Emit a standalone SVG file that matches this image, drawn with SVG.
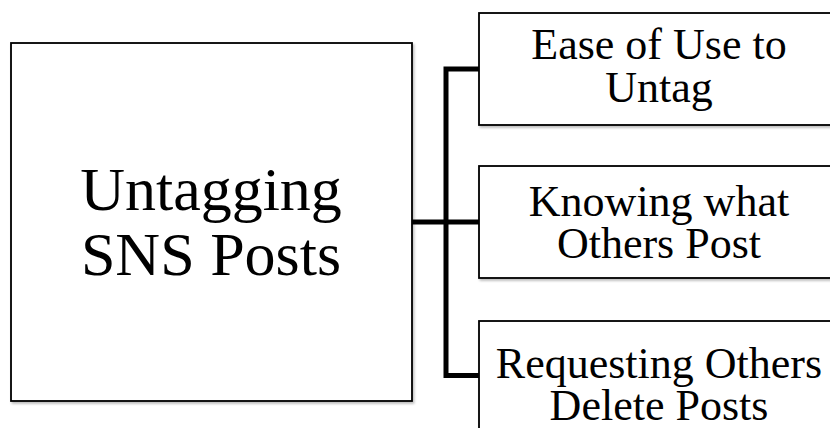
<svg xmlns="http://www.w3.org/2000/svg" width="830" height="428" viewBox="0 0 830 428">
  <defs>
    <filter id="shadow" x="-5%" y="-5%" width="115%" height="115%">
      <feDropShadow dx="1.5" dy="2" stdDeviation="1.2" flood-color="#000" flood-opacity="0.25"/>
    </filter>
  </defs>
  <style>
    .box { fill: #ffffff; stroke: #000000; stroke-width: 1.8; filter: url(#shadow); }
    .main { font-family: "Liberation Serif", "Times New Roman", serif; font-size: 62px; fill: #000000; text-anchor: middle; }
    .sub { font-family: "Liberation Serif", "Times New Roman", serif; font-size: 44px; fill: #000000; text-anchor: middle; }
    .link { fill: none; stroke: #000000; stroke-width: 5; stroke-linejoin: miter; stroke-linecap: butt; }
  </style>
  <rect width="830" height="428" fill="#ffffff"/>

  <!-- connectors -->
  <g id="connectors">
    <path class="link" d="M479 69 H446 V375.5 H479"/>
    <path class="link" d="M412 222 H479"/>
  </g>

  <!-- root node -->
  <g id="node-root">
    <rect class="box" x="11" y="43" width="401" height="358"/>
    <text class="main" x="211" y="210">Untagging</text>
    <text class="main" x="211" y="275">SNS Posts</text>
  </g>

  <!-- branch nodes -->
  <g id="node-ease">
    <rect class="box" x="479" y="13" width="370" height="112"/>
    <text class="sub" x="659" y="59">Ease of Use to</text>
    <text class="sub" x="659" y="102">Untag</text>
  </g>

  <g id="node-knowing">
    <rect class="box" x="479" y="166" width="370" height="112"/>
    <text class="sub" x="659" y="216">Knowing what</text>
    <text class="sub" x="659" y="258">Others Post</text>
  </g>

  <g id="node-requesting">
    <rect class="box" x="479" y="321" width="370" height="140"/>
    <text class="sub" x="659" y="378">Requesting Others</text>
    <text class="sub" x="659" y="420">Delete Posts</text>
  </g>
</svg>
